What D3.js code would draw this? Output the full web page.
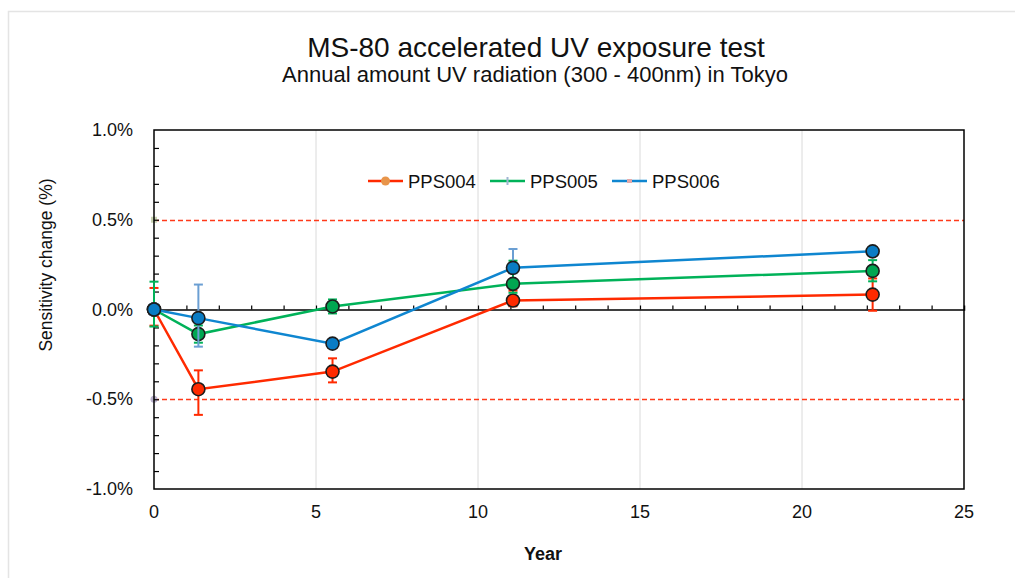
<!DOCTYPE html>
<html>
<head>
<meta charset="utf-8">
<script src="https://cdn.jsdelivr.net/npm/d3@7"></script>
<style>
  body { margin: 0; background: #fff; }
  svg text { font-family: "Liberation Sans", Arial, sans-serif; fill: #111; }
</style>
</head>
<body>
<svg id="chart" width="1015" height="578"></svg>
<script>
// values
const years = [0, 1.37, 5.51, 11.08, 22.18];

const pps004 = [0, -0.444, -0.346, 0.05, 0.083];
const pps004Up = [0.12, 0.105, 0.074, 0.055, 0.09];
const pps004Down = [0.09, 0.143, 0.06, 0.032, 0.09];

const pps005 = [0, -0.137, 0.017, 0.143, 0.215];
const pps005Up = [0.155, 0.048, 0.039, 0.129, 0.06];
const pps005Down = [0.095, 0.048, 0.039, 0.05, 0.058];

const pps006 = [0, -0.048, -0.19, 0.232, 0.324];
const pps006Up = [0.03, 0.187, 0.02, 0.105, 0.02];
const pps006Down = [0.03, 0.159, 0.02, 0.03, 0.02];

const limits = [0.5, -0.5];
const xTicks = [0, 5, 10, 15, 20, 25];
const yTicks = [1.0, 0.5, 0.0, -0.5, -1.0];

const series = [
  { name: "PPS004", values: pps004, up: pps004Up, down: pps004Down, color: "#ff2a00", fill: "#ff2a00", err: "#ff2a00" },
  { name: "PPS005", values: pps005, up: pps005Up, down: pps005Down, color: "#00b259", fill: "#00a651", err: "#00b259" },
  { name: "PPS006", values: pps006, up: pps006Up, down: pps006Down, color: "#0f86d0", fill: "#0a7cc4", err: "#6b9fd3" }
];

const svg = d3.select("#chart");
const plotL = 154, plotR = 964, plotT = 130, plotB = 489;

const x = d3.scaleLinear().domain([0, 25]).range([plotL, plotR]);
const y = d3.scaleLinear().domain([-1, 1]).range([plotB, plotT]);

// outer frame
svg.append("rect")
  .attr("x", 8.5).attr("y", 11.5)
  .attr("width", 1200).attr("height", 800)
  .attr("fill", "none")
  .attr("stroke", "#e4e4e4")
  .attr("stroke-width", 1.5);

// titles
svg.append("text")
  .attr("x", 536).attr("y", 57)
  .attr("text-anchor", "middle")
  .style("font-size", "28px")
  .text("MS-80 accelerated UV exposure test");

svg.append("text")
  .attr("x", 535).attr("y", 82)
  .attr("text-anchor", "middle")
  .style("font-size", "22px")
  .text("Annual amount UV radiation (300 - 400nm) in Tokyo");

// vertical grid
svg.append("g")
  .selectAll("line")
  .data(xTicks.filter(d => d > 0 && d < 25))
  .join("line")
    .attr("x1", d => x(d)).attr("x2", d => x(d))
    .attr("y1", plotT).attr("y2", plotB)
    .attr("stroke", "#dadada")
    .attr("stroke-width", 1);

// limit lines
svg.append("g")
  .selectAll("line")
  .data(limits)
  .join("line")
    .attr("x1", plotL).attr("x2", plotR)
    .attr("y1", d => Math.round(y(d)) + 0.5).attr("y2", d => Math.round(y(d)) + 0.5)
    .attr("stroke", "#ff3a1a")
    .attr("stroke-width", 1.6)
    .attr("stroke-dasharray", "5,3");

svg.append("rect")
  .attr("x", x(0) - 3).attr("y", y(limits[0]) - 3)
  .attr("width", 6).attr("height", 6)
  .attr("fill", "#c9d3b2");
svg.append("circle")
  .attr("cx", x(0)).attr("cy", y(limits[1]))
  .attr("r", 3.5)
  .attr("fill", "#bcb4cf");

// zero line with yearly ticks
const zeroAxis = d3.axisTop(x)
  .tickValues(d3.range(1, 25))
  .tickSize(4)
  .tickFormat("");
svg.append("g")
  .attr("transform", `translate(0,${y(0)})`)
  .call(zeroAxis)
  .call(g => g.select(".domain").attr("stroke", "#000").attr("stroke-width", 1.5))
  .call(g => g.selectAll(".tick line").attr("stroke", "#000").attr("stroke-width", 1.2));

// left axis minor ticks
const leftAxis = d3.axisRight(y)
  .tickValues(d3.range(-9, 10).map(d => d / 10))
  .tickSize(5)
  .tickFormat("");
svg.append("g")
  .attr("transform", `translate(${plotL},0)`)
  .call(leftAxis)
  .call(g => g.select(".domain").remove())
  .call(g => g.selectAll(".tick line").attr("stroke", "#000").attr("stroke-width", 1.2));

// plot border
svg.append("rect")
  .attr("x", plotL).attr("y", plotT)
  .attr("width", plotR - plotL).attr("height", plotB - plotT)
  .attr("fill", "none")
  .attr("stroke", "#000")
  .attr("stroke-width", 1.5);

// tick labels (plain hyphen for negatives, like the original)
svg.append("g")
  .selectAll("text")
  .data(yTicks)
  .join("text")
    .attr("x", 133).attr("y", d => y(d) + 6)
    .attr("text-anchor", "end")
    .style("font-size", "18px")
    .text(d => d.toFixed(1) + "%");

svg.append("g")
  .selectAll("text")
  .data(xTicks)
  .join("text")
    .attr("x", d => x(d)).attr("y", 518)
    .attr("text-anchor", "middle")
    .style("font-size", "18px")
    .text(d => d);

// axis titles
svg.append("text")
  .attr("transform", "translate(52,265) rotate(-90)")
  .attr("text-anchor", "middle")
  .style("font-size", "17.5px")
  .text("Sensitivity change (%)");

svg.append("text")
  .attr("x", 543).attr("y", 560)
  .attr("text-anchor", "middle")
  .style("font-size", "18px")
  .style("font-weight", "bold")
  .text("Year");

// series
const line = d3.line()
  .x((d, i) => x(years[i]))
  .y(d => y(d));

series.forEach(s => {
  const eg = svg.append("g");
  const pts = years.map((yr, i) => ({ yr: yr, v: s.values[i], up: s.up[i], down: s.down[i] }));

  eg.selectAll("line.bar")
    .data(pts)
    .join("line")
      .attr("class", "bar")
      .attr("x1", d => x(d.yr)).attr("x2", d => x(d.yr))
      .attr("y1", d => y(d.v + d.up)).attr("y2", d => y(d.v - d.down))
      .attr("stroke", s.err).attr("stroke-width", 2);

  ["up", "down"].forEach(k => {
    eg.selectAll("line.cap-" + k)
      .data(pts)
      .join("line")
        .attr("class", "cap-" + k)
        .attr("x1", d => x(d.yr) - 4.5).attr("x2", d => x(d.yr) + 4.5)
        .attr("y1", d => y(k === "up" ? d.v + d.up : d.v - d.down))
        .attr("y2", d => y(k === "up" ? d.v + d.up : d.v - d.down))
        .attr("stroke", s.err).attr("stroke-width", 2);
  });

  svg.append("path")
    .datum(s.values)
    .attr("d", line)
    .attr("fill", "none")
    .attr("stroke", s.color)
    .attr("stroke-width", 2.5);

  svg.append("g")
    .selectAll("circle")
    .data(pts)
    .join("circle")
      .attr("cx", d => x(d.yr)).attr("cy", d => y(d.v))
      .attr("r", 6.5)
      .attr("fill", s.fill)
      .attr("stroke", "#1c1c1c")
      .attr("stroke-width", 1.6);
});

// legend
const legend = svg.append("g").attr("transform", "translate(368,181)");
const legendMarks = ["circle", "plus", "square"];
const legendMarkColors = ["#e8954a", "#9fb6d2", "#e3a9a9"];

series.forEach((s, i) => {
  const item = legend.append("g").attr("transform", `translate(${i * 122},0)`);
  item.append("line")
    .attr("x1", 0).attr("x2", 35)
    .attr("stroke", s.color).attr("stroke-width", 2.5);
  if (legendMarks[i] === "circle") {
    item.append("circle").attr("cx", 17.5).attr("r", 4.5).attr("fill", legendMarkColors[i]);
  } else if (legendMarks[i] === "plus") {
    item.append("rect").attr("x", 16.5).attr("y", -4).attr("width", 2).attr("height", 8).attr("fill", legendMarkColors[i]);
  } else {
    item.append("rect").attr("x", 15).attr("y", -2).attr("width", 5).attr("height", 4).attr("fill", legendMarkColors[i]);
  }
  item.append("text")
    .attr("x", 40).attr("y", 6.5)
    .style("font-size", "18.5px")
    .text(s.name);
});
</script>
</body>
</html>
